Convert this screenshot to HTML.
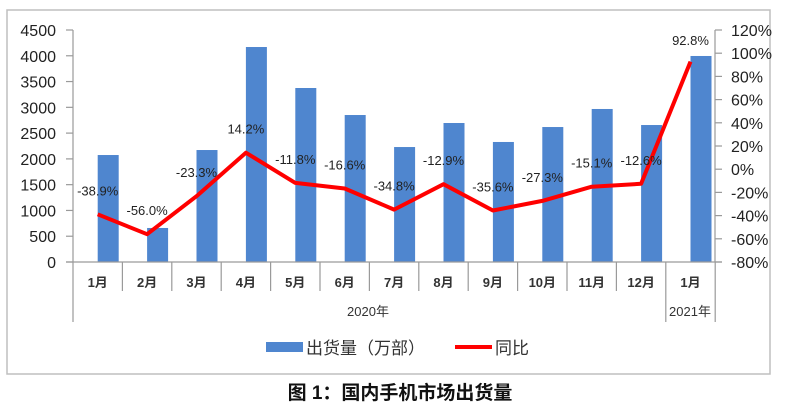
<!DOCTYPE html>
<html><head><meta charset="utf-8"><style>
body{margin:0;background:#fff;}
svg text{font-family:"Liberation Sans","Noto Sans CJK SC",sans-serif;}
</style></head><body>
<svg width="800" height="412" xmlns="http://www.w3.org/2000/svg">
<rect x="7" y="10" width="763" height="364" fill="#fff" stroke="#bfbfbf" stroke-width="1.5"/>
<g id="bars" fill="#4f86cf"></g>
<g stroke="#9a9a9a" stroke-width="1.2" fill="none">
<line x1="73" y1="30" x2="73" y2="322"/>
<line x1="715" y1="30" x2="715" y2="262"/>
<line x1="66" y1="262" x2="722" y2="262"/>
</g>
<g id="ax" stroke="#9a9a9a" stroke-width="1.2"></g>
<g id="lbl" font-size="16" fill="#222"></g>
<polyline id="ln" fill="none" stroke="#f00" stroke-width="4" stroke-linejoin="round"/>
<g id="pl" font-size="13" fill="#222" text-anchor="middle"></g>
<g id="cat" font-size="13" fill="#333" font-weight="bold" text-anchor="middle"></g>
<text x="368" y="316" font-size="13" fill="#333" text-anchor="middle">2020年</text>
<text x="690" y="316" font-size="13" fill="#333" text-anchor="middle">2021年</text>
<rect x="266" y="342" width="37" height="10" fill="#4f86cf"/>
<text x="306" y="354" font-size="17" fill="#333">出货量（万部）</text>
<line x1="455" y1="347" x2="492" y2="347" stroke="#f00" stroke-width="4"/>
<text x="495" y="354" font-size="17" fill="#333">同比</text>
<text x="400" y="399" font-size="19" font-weight="bold" fill="#111" text-anchor="middle">图 1：国内手机市场出货量</text>
</svg>
<script>
const ns="http://www.w3.org/2000/svg";
function el(p,t,a,txt){const e=document.createElementNS(ns,t);for(const k in a)e.setAttribute(k,a[k]);if(txt!=null)e.textContent=txt;document.getElementById(p).appendChild(e);}
const W=49.4,x0=73;
const v=[2075,660,2172,4170,3375,2851,2230,2696,2328,2618,2968,2657,3996];
const y=[-38.9,-56.0,-23.3,14.2,-11.8,-16.6,-34.8,-12.9,-35.6,-27.3,-15.1,-12.6,92.8];
const cats=["1月","2月","3月","4月","5月","6月","7月","8月","9月","10月","11月","12月","1月"];
let pts=[];
for(let i=0;i<13;i++){
 const c=x0+W*(i+0.5);
 const h=v[i]/4500*232;
 el("bars","rect",{x:c,y:262-h,width:21,height:h});
 const yy=262-(y[i]+80)/200*232;
 pts.push(c.toFixed(1)+","+yy.toFixed(1));
 let ly=yy-19; if(i==12) ly=45;
 el("pl","text",{x:c,y:ly},(y[i]>0?"":"")+y[i].toFixed(1)+"%");
 el("cat","text",{x:c,y:287},cats[i]);
 const tx=x0+W*(i+1);
 el("ax","line",{x1:tx,y1:262,x2:tx,y2:(i==11||i==12)?322:291});
}
document.getElementById("ln").setAttribute("points",pts.join(" "));
for(let k=0;k<=9;k++){const yy=262-k*232/9;
 el("ax","line",{x1:66,y1:yy,x2:73,y2:yy});
 el("lbl","text",{x:56,y:yy+6,"text-anchor":"end"},String(k*500));}
for(let k=0;k<=10;k++){const yy=262-k*23.2;
 el("ax","line",{x1:715,y1:yy,x2:722,y2:yy});
 el("lbl","text",{x:731,y:yy+6},(k*20-80)+"%");}
</script>
</body></html>
